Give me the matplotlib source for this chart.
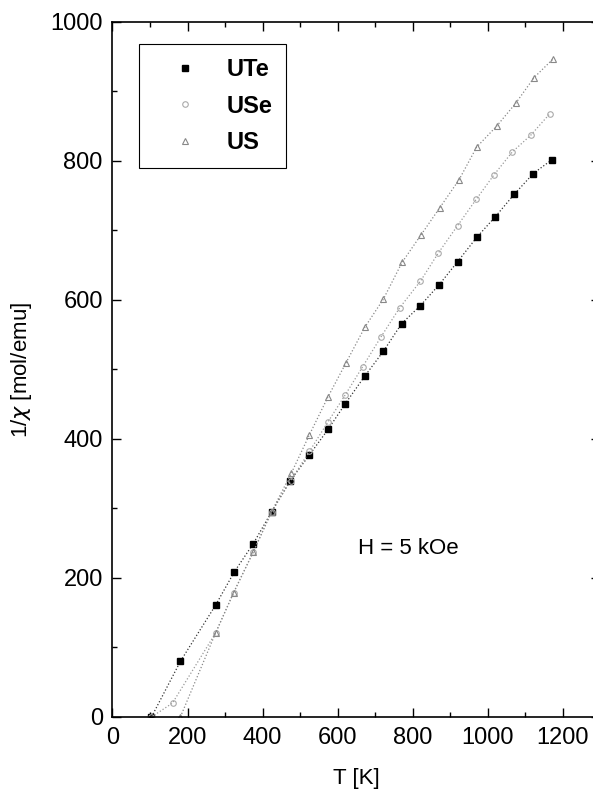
import numpy as np
import matplotlib.pyplot as plt
from matplotlib.ticker import MultipleLocator

plt.rcParams.update({
    'font.family': ['Liberation Sans', 'DejaVu Sans'],
    'font.size': 17,
    'xtick.direction': 'in',
    'ytick.direction': 'in',
    'xtick.top': True,
    'ytick.right': True,
})

# ----------------------------------------------------------
# data (T in K, 1/chi in mol/emu)
# ----------------------------------------------------------
T_UTe = [104, 181, 275, 325, 375, 424, 474, 525, 575, 621, 672, 722, 771,
         821, 871, 920, 971, 1021, 1071, 1122, 1172]
inv_UTe = [0, 80, 161, 209, 249, 295, 340, 377, 414, 451, 490, 526, 566,
           592, 622, 655, 690, 720, 752, 782, 802]

T_USe = [104, 160, 275, 323, 375, 424, 475, 525, 575, 620, 667, 716, 766,
         821, 868, 920, 970, 1017, 1066, 1115, 1166]
inv_USe = [0, 20, 121, 179, 237, 295, 340, 382, 425, 463, 504, 547, 589,
           627, 667, 707, 745, 780, 813, 837, 868]

T_US = [181, 275, 323, 375, 424, 477, 525, 575, 623, 673, 722, 772, 823,
        873, 924, 971, 1024, 1075, 1124, 1175]
inv_US = [0, 121, 179, 237, 295, 351, 406, 461, 510, 561, 601, 654, 694,
          733, 773, 820, 850, 883, 920, 947]

fig = plt.figure(figsize=(5.93, 7.97), dpi=100)
ax = fig.add_axes([0.1897, 0.1004, 0.8222, 0.872])

ax.plot(T_UTe, inv_UTe, ls=':', lw=0.9, color='#333333', marker='s',
        ms=5, mfc='black', mec='black', label='UTe')
ax.plot(T_USe, inv_USe, ls=':', lw=0.9, color='#999999', marker='o',
        ms=4, mfc='none', mec='#aaaaaa', mew=0.8, label='USe')
ax.plot(T_US, inv_US, ls=':', lw=0.9, color='#888888', marker='^',
        ms=4, mfc='none', mec='#888888', mew=0.8, label='US')

ax.set_xlim(0, 1300)
ax.set_ylim(0, 1000)
ax.xaxis.set_major_locator(MultipleLocator(200))
ax.xaxis.set_minor_locator(MultipleLocator(100))
ax.yaxis.set_major_locator(MultipleLocator(200))
ax.yaxis.set_minor_locator(MultipleLocator(100))
ax.tick_params(which='major', length=6.5, width=1.0, labelsize=17, pad=7)
ax.tick_params(which='minor', length=3.5, width=1.0)
for s in ax.spines.values():
    s.set_linewidth(1.2)

ax.set_xlabel('T [K]', fontsize=16, labelpad=14)
ax.set_ylabel(r'1/$\chi$ [mol/emu]', fontsize=16, labelpad=12)

ax.text(790, 243, 'H = 5 kOe', fontsize=16, ha='center', va='center')

leg = ax.legend(loc='upper left', bbox_to_anchor=(0.054, 0.968),
                borderaxespad=0, fancybox=False, edgecolor='black',
                framealpha=1, handlelength=2.7, handletextpad=0.4,
                labelspacing=0.56, borderpad=0.6,
                prop={'weight': 'bold', 'size': 17})
leg.get_frame().set_linewidth(0.8)
for h in leg.legend_handles:
    h.set_linestyle('none')

fig.savefig('out.png', dpi=100)
